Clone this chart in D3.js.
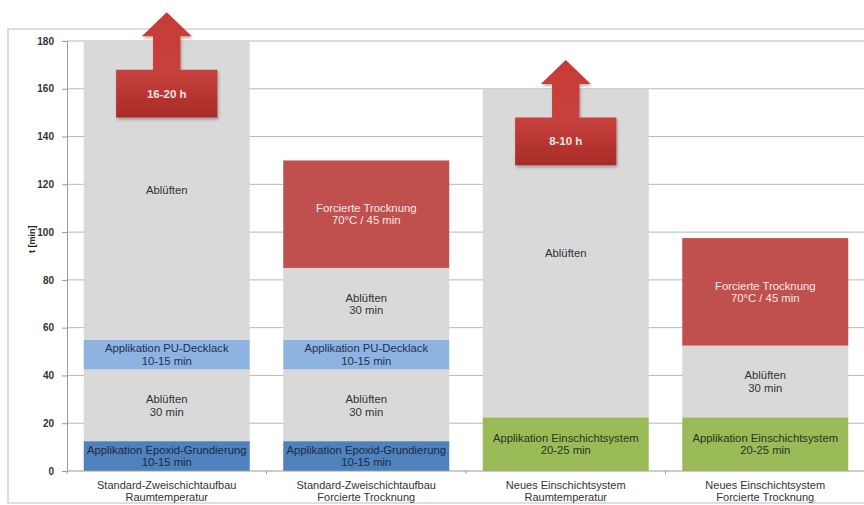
<!DOCTYPE html>
<html>
<head>
<meta charset="utf-8">
<script src="https://cdn.jsdelivr.net/npm/d3@7"></script>
<style>
  body { margin: 0; background: #fff; }
  svg { display: block; overflow: visible; font-family: "Liberation Sans", Arial, sans-serif; }
</style>
</head>
<body>
<svg id="chart"></svg>
<script>
// Chart data
const categories = [
  ["Standard-Zweischichtaufbau", "Raumtemperatur"],
  ["Standard-Zweischichtaufbau", "Forcierte Trocknung"],
  ["Neues Einschichtsystem", "Raumtemperatur"],
  ["Neues Einschichtsystem", "Forcierte Trocknung"]
];

// stacked durations per bar (minutes), bottom to top
const durations = [
  [12.5, 30, 12.5, 125],
  [12.5, 30, 12.5, 30, 45],
  [22.5, 137.5],
  [22.5, 30, 45]
];

const phases = [
  ["epoxid", "abl", "pu", "abl"],
  ["epoxid", "abl", "pu", "abl", "forced"],
  ["ein", "abl"],
  ["ein", "abl", "forced"]
];

const segLabels = [
  [["Applikation Epoxid-Grundierung", "10-15 min"], ["Ablüften", "30 min"], ["Applikation PU-Decklack", "10-15 min"], ["Ablüften"]],
  [["Applikation Epoxid-Grundierung", "10-15 min"], ["Ablüften", "30 min"], ["Applikation PU-Decklack", "10-15 min"], ["Ablüften", "30 min"], ["Forcierte Trocknung", "70°C / 45 min"]],
  [["Applikation Einschichtsystem", "20-25 min"], ["Ablüften"]],
  [["Applikation Einschichtsystem", "20-25 min"], ["Ablüften", "30 min"], ["Forcierte Trocknung", "70°C / 45 min"]]
];

const yTicks = [0, 20, 40, 60, 80, 100, 120, 140, 160, 180];

// arrows showing the real (longer) air-dry time
const arrowCats = [0, 2];
const arrowLabels = ["16-20 h", "8-10 h"];
const arrowBase = [148, 128];

const phaseFill = {
  epoxid: "#4f81bd",
  pu: "#8db3e2",
  abl: "#d9d9d9",
  forced: "#c0504d",
  ein: "#9bbb59"
};
const phaseText = {
  epoxid: "#1b2a44",
  pu: "#1f3050",
  abl: "#333",
  forced: "#fbe9e8",
  ein: "#2b3318"
};

const width = 864;
const height = 505;
const margin = { top: 41, right: 0, bottom: 34, left: 67 };

const svg = d3.select("#chart")
  .attr("width", width)
  .attr("height", height);

const defs = svg.append("defs");
const grad = defs.append("linearGradient")
  .attr("id", "arrowGrad")
  .attr("x1", 0).attr("y1", 0).attr("x2", 0).attr("y2", 1);
grad.append("stop").attr("offset", "0%").attr("stop-color", "#c63a36");
grad.append("stop").attr("offset", "55%").attr("stop-color", "#c8413d");
grad.append("stop").attr("offset", "100%").attr("stop-color", "#a82b27");

const shadow = defs.append("filter").attr("id", "shadow")
  .attr("x", "-20%").attr("y", "-20%").attr("width", "140%").attr("height", "140%");
shadow.append("feDropShadow")
  .attr("dx", 1).attr("dy", 2).attr("stdDeviation", 1.5)
  .attr("flood-color", "#000").attr("flood-opacity", 0.3);

// outer frame
svg.append("rect")
  .attr("x", 8).attr("y", 29)
  .attr("width", 880).attr("height", 474)
  .attr("fill", "#fff")
  .attr("stroke", "#d4d4d4")
  .attr("stroke-width", 1.5);

const xScale = d3.scaleBand()
  .domain(d3.range(categories.length))
  .range([margin.left, 865])
  .paddingInner(0.168)
  .paddingOuter(0.084);

const yScale = d3.scaleLinear()
  .domain([0, 180])
  .range([height - margin.bottom, margin.top]);

// gridlines
svg.append("g")
  .selectAll("line")
  .data(yTicks.filter(d => d > 0))
  .join("line")
  .attr("x1", margin.left)
  .attr("x2", 865)
  .attr("y1", d => yScale(d))
  .attr("y2", d => yScale(d))
  .attr("stroke", "#b8b8b8")
  .attr("stroke-width", 1);

// y axis
const yAxis = d3.axisLeft(yScale).tickValues(yTicks).tickSize(5).tickPadding(8);
const yG = svg.append("g")
  .attr("transform", `translate(${margin.left},0)`)
  .call(yAxis);
yG.select(".domain").attr("stroke", "#9a9a9a");
yG.selectAll(".tick line").attr("stroke", "#9a9a9a");
yG.selectAll(".tick text")
  .attr("fill", "#333")
  .attr("font-size", 10)
  .attr("font-weight", "bold")
  .attr("font-family", "Liberation Sans, Arial, sans-serif");

svg.append("text")
  .attr("transform", `translate(35, ${yScale(97)}) rotate(-90)`)
  .attr("text-anchor", "middle")
  .attr("font-size", 9)
  .attr("font-weight", "bold")
  .attr("fill", "#222")
  .text("t [min]");

// stacked bars
const stacks = durations.map((arr, i) => {
  let acc = 0;
  return arr.map((v, j) => {
    const s = { cat: i, y0: acc, y1: acc + v, phase: phases[i][j], label: segLabels[i][j] };
    acc += v;
    return s;
  });
}).flat();

const segG = svg.append("g")
  .selectAll("g")
  .data(stacks)
  .join("g");

segG.append("rect")
  .attr("x", d => xScale(d.cat))
  .attr("width", xScale.bandwidth())
  .attr("y", d => yScale(d.y1))
  .attr("height", d => yScale(d.y0) - yScale(d.y1))
  .attr("fill", d => phaseFill[d.phase]);

segG.append("text")
  .attr("x", d => xScale(d.cat) + xScale.bandwidth() / 2)
  .attr("y", d => (yScale(d.y0) + yScale(d.y1)) / 2)
  .attr("text-anchor", "middle")
  .attr("font-size", 11.3)
  .attr("fill", d => phaseText[d.phase])
  .each(function(d) {
    const n = d.label.length;
    d3.select(this).selectAll("tspan")
      .data(d.label)
      .join("tspan")
      .attr("x", xScale(d.cat) + xScale.bandwidth() / 2)
      .attr("dy", (t, k) => k === 0 ? (-(n - 1) * 6.2 + 4) : 12.4)
      .text(t => t);
  });

// x axis
const xG = svg.append("g")
  .attr("transform", `translate(0,${yScale(0)})`);
xG.append("line")
  .attr("x1", margin.left).attr("x2", 865)
  .attr("stroke", "#9a9a9a");
xG.selectAll(".tk")
  .data(d3.range(categories.length + 1))
  .join("line")
  .attr("class", "tk")
  .attr("x1", i => margin.left + i * xScale.step())
  .attr("x2", i => margin.left + i * xScale.step())
  .attr("y1", 0).attr("y2", 3)
  .attr("stroke", "#9a9a9a");

xG.selectAll(".cat")
  .data(categories)
  .join("text")
  .attr("class", "cat")
  .attr("text-anchor", "middle")
  .attr("font-size", 11)
  .attr("fill", "#333")
  .each(function(lines, i) {
    d3.select(this).selectAll("tspan")
      .data(lines)
      .join("tspan")
      .attr("x", xScale(i) + xScale.bandwidth() / 2)
      .attr("y", (t, k) => 18 + k * 12)
      .text(t => t);
  });

// arrows
arrowCats.forEach((c, i) => {
  const cx = xScale(c) + xScale.bandwidth() / 2;
  const bw = xScale.bandwidth();
  const boxW = bw * 0.61, shaftW = bw * 0.165, headW = bw * 0.30;
  const yBot = yScale(arrowBase[i]);
  const yBoxTop = yScale(arrowBase[i] + 20);
  const yHead = yScale(arrowBase[i] + 34);
  const yTip = yScale(arrowBase[i] + 44);
  const pts = [
    [cx - boxW / 2, yBot],
    [cx - boxW / 2, yBoxTop],
    [cx - shaftW / 2, yBoxTop],
    [cx - shaftW / 2, yHead],
    [cx - headW / 2, yHead],
    [cx, yTip],
    [cx + headW / 2, yHead],
    [cx + shaftW / 2, yHead],
    [cx + shaftW / 2, yBoxTop],
    [cx + boxW / 2, yBoxTop],
    [cx + boxW / 2, yBot]
  ];
  svg.append("path")
    .attr("d", d3.line()(pts) + "Z")
    .attr("fill", "url(#arrowGrad)")
    .attr("filter", "url(#shadow)");
  svg.append("text")
    .attr("x", cx)
    .attr("y", (yBot + yBoxTop) / 2 + 4)
    .attr("text-anchor", "middle")
    .attr("font-size", 11.5)
    .attr("font-weight", "bold")
    .attr("fill", "#f6e4e3")
    .text(arrowLabels[i]);
});
</script>
</body>
</html>
